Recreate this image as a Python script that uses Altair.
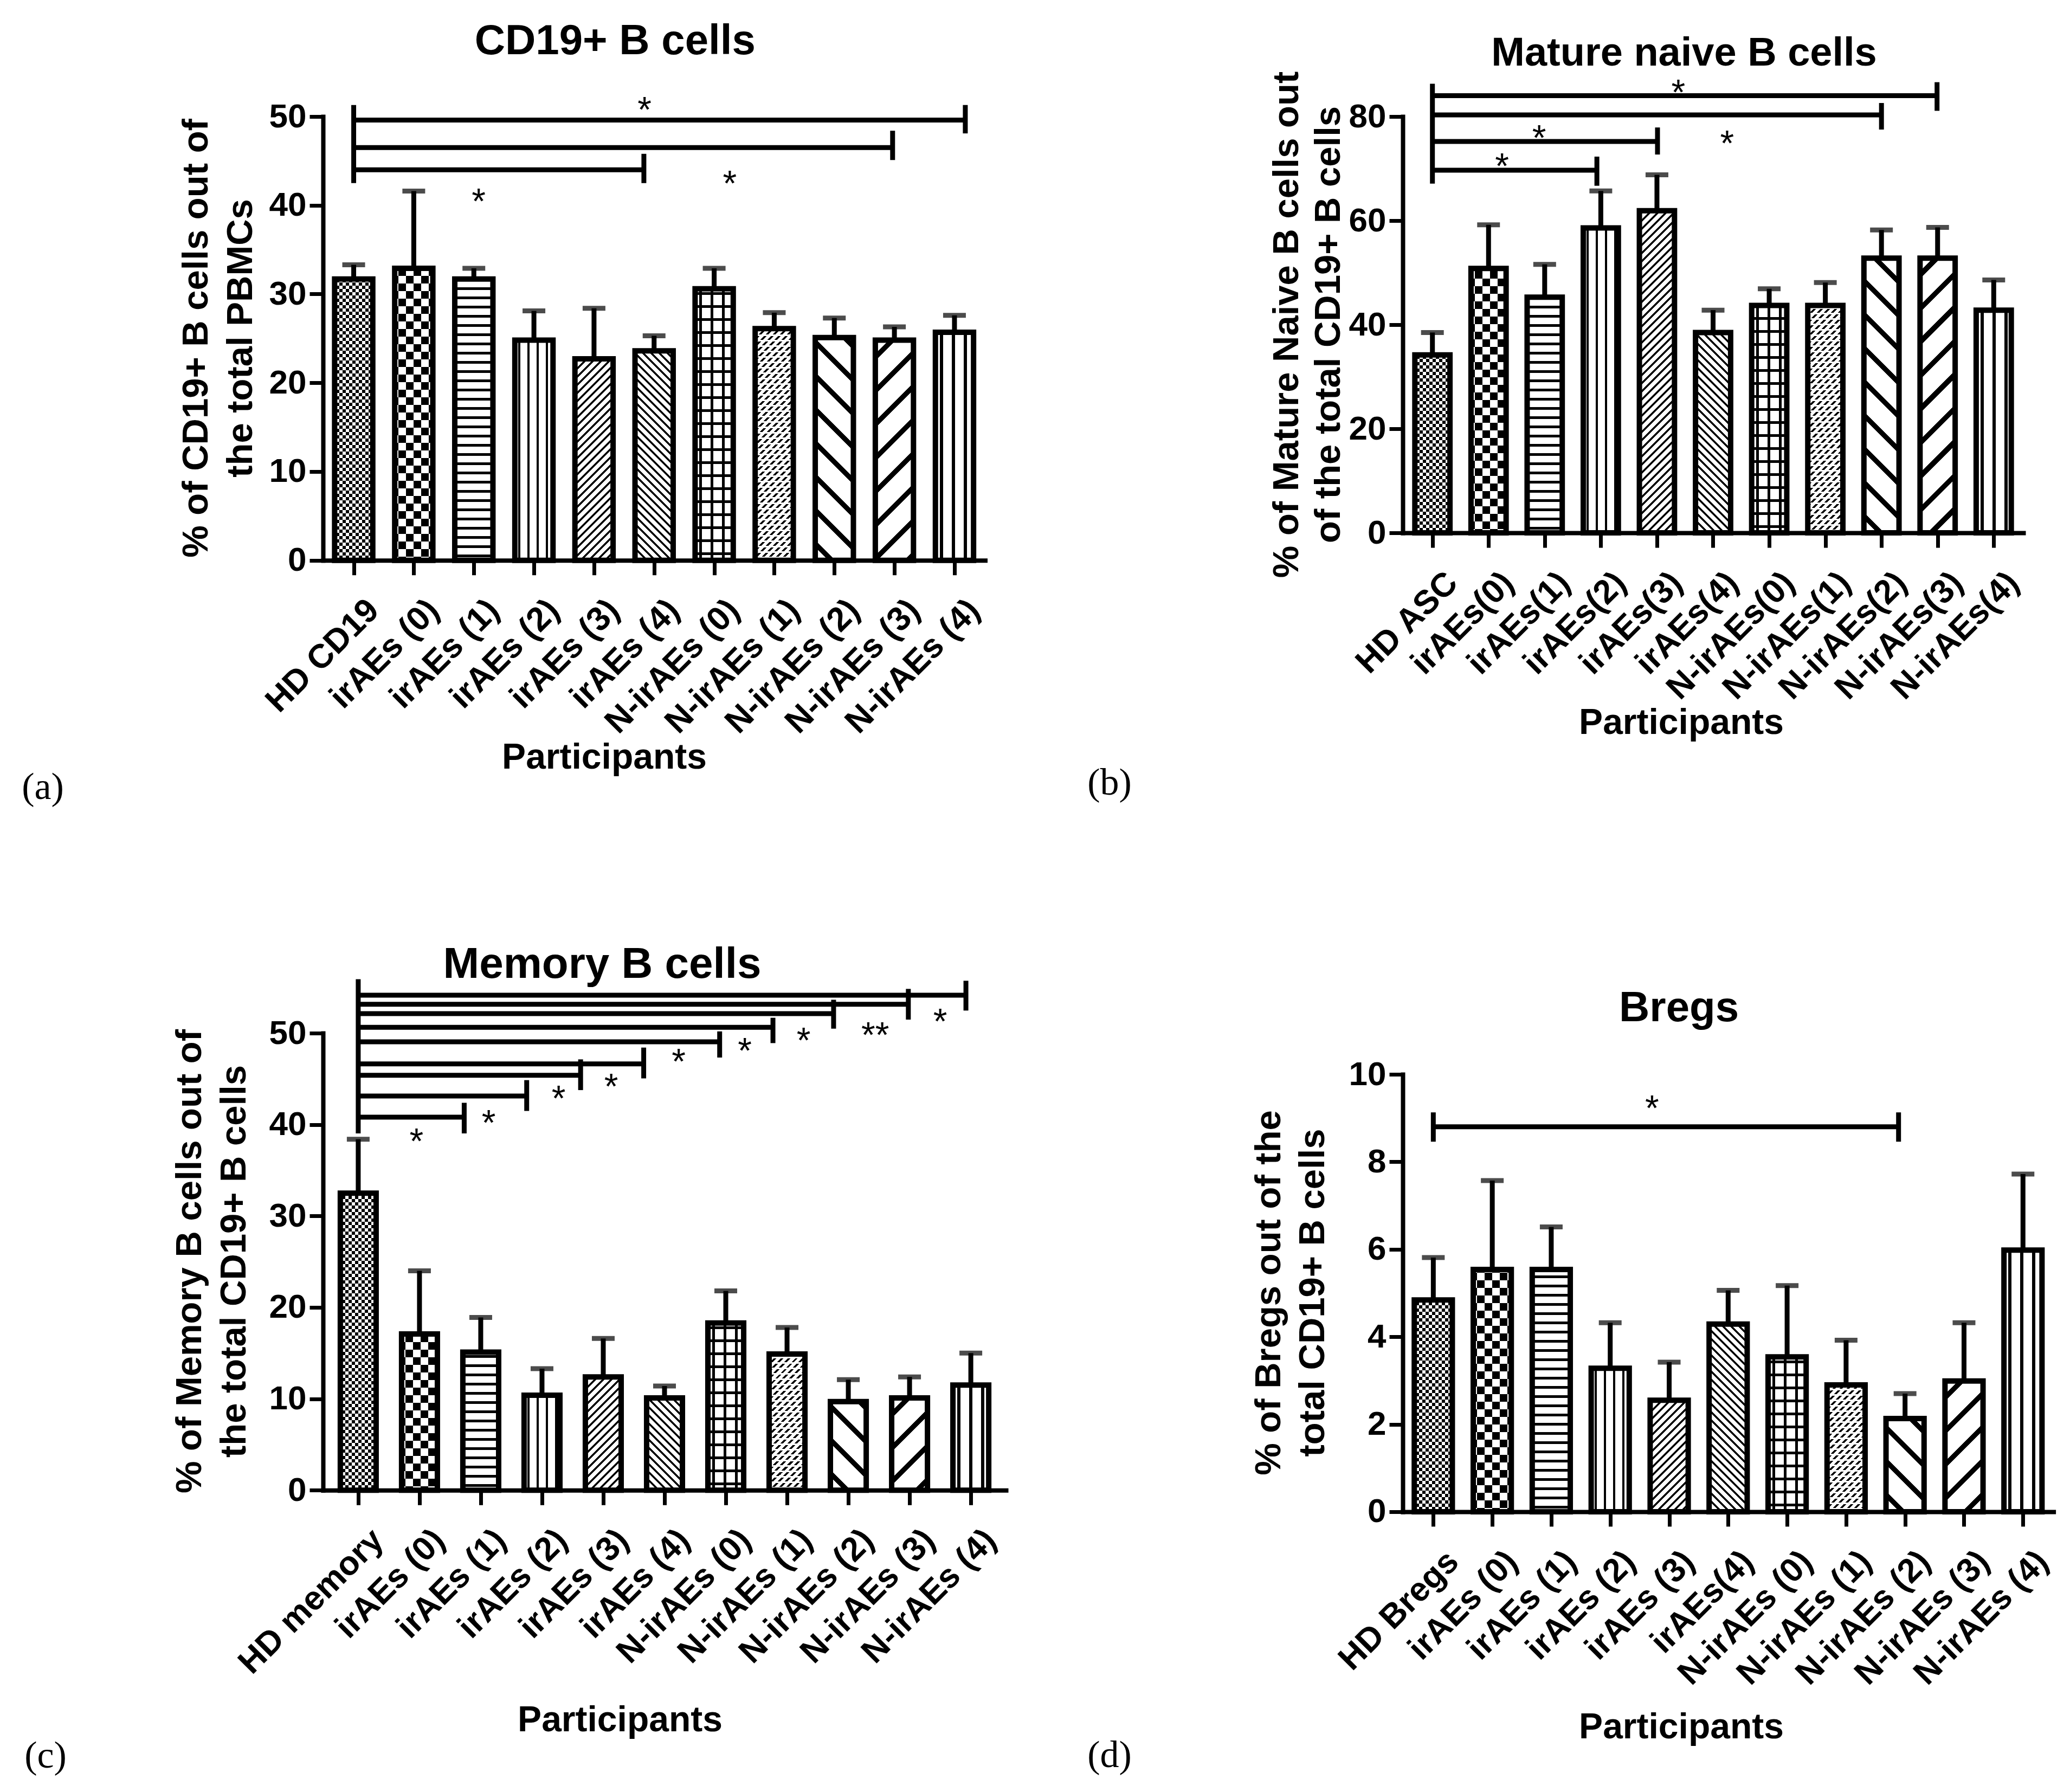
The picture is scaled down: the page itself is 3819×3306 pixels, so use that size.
import json
import altair as alt
import pandas as pd

# ------------------------------------------------------------------ data
# (a) CD19+ B cells
a_labels = ["HD CD19", "irAEs (0)", "irAEs (1)", "irAEs (2)", "irAEs (3)", "irAEs (4)",
            "N-irAEs (0)", "N-irAEs (1)", "N-irAEs (2)", "N-irAEs (3)", "N-irAEs (4)"]
a_mean = [31.7, 32.9, 31.7, 24.8, 22.7, 23.6, 30.6, 26.1, 25.1, 24.8, 25.7]
a_err = [33.3, 41.6, 32.9, 28.1, 28.4, 25.3, 32.9, 27.9, 27.3, 26.3, 27.6]
a_line_x1 = [0, 0, 0]
a_line_x2 = [10.18, 8.97, 4.83]
a_line_y = [49.6, 46.5, 44.0]
a_tick_x = [0, 10.18, 8.97, 4.83]
a_tick_y1 = [42.5, 48.1, 45.1, 42.5]
a_tick_y2 = [51.3, 51.3, 48.4, 45.8]
a_star_x = [4.84, 6.26, 2.08]
a_star_y = [51.7, 43.4, 41.4]
a_star_t = ["*", "*", "*"]
a_title = "CD19+ B cells"
a_ytitle = ["% of CD19+ B cells out of", "the total PBMCs"]

# (b) Mature naive B cells
b_labels = ["HD ASC", "irAEs(0)", "irAEs(1)", "irAEs(2)", "irAEs(3)", "irAEs(4)",
            "N-irAEs(0)", "N-irAEs(1)", "N-irAEs(2)", "N-irAEs(3)", "N-irAEs(4)"]
b_mean = [34.2, 50.8, 45.3, 58.6, 61.9, 38.5, 43.7, 43.7, 52.8, 52.8, 42.8]
b_err = [38.5, 59.2, 51.6, 65.7, 68.8, 42.8, 46.9, 48.1, 58.2, 58.7, 48.6]
b_line_x1 = [0, 0, 0, 0]
b_line_x2 = [8.99, 8.0, 4.01, 2.93]
b_line_y = [84.0, 80.3, 75.2, 69.7]
b_tick_x = [0, 8.99, 8.0, 4.01, 2.93]
b_tick_y1 = [67.1, 81.1, 77.5, 72.7, 66.7]
b_tick_y2 = [86.3, 86.6, 82.6, 77.9, 72.3]
b_star_x = [4.38, 5.25, 1.9, 1.24]
b_star_y = [86.3, 76.5, 77.5, 72.1]
b_star_t = ["*", "*", "*", "*"]
b_title = "Mature naive B cells"
b_ytitle = ["% of Mature Naive B cells out", "of the total CD19+ B cells"]

# (c) Memory B cells
c_labels = ["HD memory", "irAEs (0)", "irAEs (1)", "irAEs (2)", "irAEs (3)", "irAEs (4)",
            "N-irAEs (0)", "N-irAEs (1)", "N-irAEs (2)", "N-irAEs (3)", "N-irAEs (4)"]
c_mean = [32.5, 17.1, 15.1, 10.4, 12.4, 10.1, 18.3, 14.9, 9.7, 10.1, 11.5]
c_err = [38.4, 24.0, 18.9, 13.3, 16.6, 11.4, 21.8, 17.8, 12.1, 12.4, 15.0]
c_line_x1 = [0, 0, 0, 0, 0, 0, 0, 0, 0]
c_line_x2 = [9.92, 8.98, 7.76, 6.77, 5.90, 4.66, 3.63, 2.75, 1.73]
c_line_y = [54.15, 53.16, 52.13, 50.63, 49.05, 46.64, 45.39, 43.12, 40.81]
c_tick_x = [0, 9.92, 8.98, 7.76, 6.77, 5.90, 4.66, 3.63, 2.75, 1.73]
c_tick_y1 = [39.03, 52.47, 51.48, 50.49, 48.91, 47.33, 45.05, 43.77, 41.49, 39.03]
c_tick_y2 = [55.9, 55.73, 54.84, 53.65, 51.68, 50.19, 48.42, 47.13, 44.86, 42.38]
c_star_x = [9.50, 8.44, 7.27, 6.31, 5.23, 4.13, 3.27, 2.13, 0.95]
c_star_y = [52.2, 50.7, 50.1, 49.0, 47.8, 45.05, 43.77, 41.1, 39.1]
c_star_t = ["*", "**", "*", "*", "*", "*", "*", "*", "*"]
c_title = "Memory B cells"
c_ytitle = ["% of Memory B cells out of", "the total CD19+ B cells"]

# (d) Bregs
d_labels = ["HD Bregs", "irAEs (0)", "irAEs (1)", "irAEs (2)", "irAEs (3)", "irAEs(4)",
            "N-irAEs (0)", "N-irAEs (1)", "N-irAEs (2)", "N-irAEs (3)", "N-irAEs (4)"]
d_mean = [4.84, 5.54, 5.54, 3.28, 2.55, 4.29, 3.54, 2.90, 2.13, 2.99, 5.98]
d_err = [5.81, 7.57, 6.51, 4.32, 3.42, 5.06, 5.17, 3.92, 2.70, 4.32, 7.72]
d_line_x1 = [0]
d_line_x2 = [7.89]
d_line_y = [8.80]
d_tick_x = [0, 7.89]
d_tick_y1 = [8.46, 8.46]
d_tick_y2 = [9.13, 9.13]
d_star_x = [3.71]
d_star_y = [9.42]
d_star_t = ["*"]
d_title = "Bregs"
d_ytitle = ["% of Bregs out of the", "total CD19+ B cells"]

x_title = "Participants"
tags = ["(a)", "(b)", "(c)", "(d)"]

# ------------------------------------------------------------------ style
FONT = "Liberation Sans"
SERIF = "Liberation Serif"
OUTLINE = 10


def stops_for(length, period, line, fg="black", bg="white"):
    st = [dict(color=bg, offset=0.0)]
    pos = (period - line) / 2.0
    while pos < length:
        a = round(max(pos, 0.0) / length, 5)
        b = round(min(pos + line, length) / length, 5)
        st += [dict(color=bg, offset=a), dict(color=fg, offset=a),
               dict(color=fg, offset=b), dict(color=bg, offset=b)]
        pos += period
    st.append(dict(color=bg, offset=1.0))
    return st


def g_vert(w, h, period, line, fg="black", bg="white"):
    return dict(gradient="linear", x1=0, y1=0, x2=1, y2=0,
                stops=stops_for(w, period, line, fg, bg))


def g_horiz(w, h, period, line, fg="black", bg="white"):
    return dict(gradient="linear", x1=0, y1=1, x2=0, y2=0,
                stops=stops_for(h, period, line, fg, bg))


def g_diag(w, h, period, line, up=True, fg="black", bg="white"):
    k = (w + h) / (w * w + h * h)
    if up:
        x1, y1, x2, y2 = 0, 0, w * k, h * k
    else:
        x1, y1, x2, y2 = 0, 1, w * k, 1 - h * k
    return dict(gradient="linear", x1=x1, y1=y1, x2=round(x2, 6), y2=round(y2, 6),
                stops=stops_for(w + h, period, line, fg, bg))


def patterns(i, w, h):
    if i == 0:
        return [(g_vert(w, h, 12, 6), None), (g_horiz(w, h, 12, 6, "white", "black"), "difference")]
    if i == 1:
        return [(g_vert(w, h, 28, 14), None), (g_horiz(w, h, 28, 14, "white", "black"), "difference")]
    if i == 2:
        return [(g_horiz(w, h, 17, 5), None)]
    if i == 3:
        return [(g_vert(w, h, 17, 4), None)]
    if i == 4:
        return [(g_diag(w, h, 15, 5, True), None)]
    if i == 5:
        return [(g_diag(w, h, 15, 5, False), None)]
    if i == 6:
        return [(g_vert(w, h, 21, 5), None), (g_horiz(w, h, 24, 5), "multiply")]
    if i == 7:
        return [(g_diag(w, h, 13, 5, True), None), (g_horiz(w, h, 10, 3, "white", "black"), "screen")]
    if i == 8:
        return [(g_diag(w, h, 62, 13, False), None)]
    if i == 9:
        return [(g_diag(w, h, 62, 13, True), None)]
    return [(g_vert(w, h, 22, 6), None)]


def build(labels, mean, err, lx1, lx2, ly, tx, ty1, ty2, sx, sy, stt,
          title, ytitle, tag, st):
    n = len(labels)
    W, H, ymax = st["W"], st["H"], st["ymax"]
    pi, po = st["pi"], st["po"]
    step = W / (n - pi + 2 * po)
    bw = step * (1 - pi)
    lo = -po - (1 - pi) / 2
    hi = n - 0.5 - pi / 2 + po
    xscale = alt.Scale(domain=[lo, hi], nice=False, zero=False)
    yscale = alt.Scale(domain=[0, ymax], nice=False, zero=True)
    xaxis = alt.Axis(values=list(range(n)), labelExpr=json.dumps(labels) + "[datum.value]",
                     title=None, labelAngle=-45, labelAlign="right", labelBaseline="middle",
                     labelFontSize=62, labelPadding=55, labelOffset=36, tickSize=27,
                     labelOverlap=False, labelFlush=False, labelBound=False, labelLimit=0)
    yaxis = alt.Axis(values=st["yticks"], title=None, labelFontSize=62, tickSize=25,
                     labelPadding=6, labelOverlap=False, labelFlush=False)

    def X(f):
        return alt.X(f, type="quantitative", scale=xscale, axis=xaxis)

    def Y(f):
        return alt.Y(f, type="quantitative", scale=yscale, axis=yaxis)

    df = pd.DataFrame({"idx": list(range(n)), "label": labels, "mean": mean, "err": err})
    layers = []
    for i in range(n):
        h = mean[i] / ymax * H
        for grad, blend in patterns(i, bw, h):
            kw = dict(fill=grad, width=bw)
            if blend:
                kw["blend"] = blend
            layers.append(
                alt.Chart(df).transform_filter(f"datum.idx == {i}")
                .mark_bar(**kw)
                .encode(x=X("idx"), y=Y("mean"), y2=alt.datum(0))
            )
    layers.append(alt.Chart(df).mark_bar(filled=False, color="black", strokeWidth=OUTLINE, width=bw)
                  .encode(x=X("idx"), y=Y("mean"), y2=alt.datum(0)))
    layers.append(alt.Chart(df).mark_rule(color="black", strokeWidth=9)
                  .encode(x=X("idx"), y=Y("mean"), y2=alt.Y2("err")))
    layers.append(alt.Chart(df).mark_tick(orient="horizontal", size=42, thickness=9, color="black")
                  .encode(x=X("idx"), y=Y("err")))
    dl = pd.DataFrame({"x1": lx1, "x2": lx2, "y": ly})
    layers.append(alt.Chart(dl).mark_rule(color="black", strokeWidth=9)
                  .encode(x=X("x1"), x2=alt.X2("x2"), y=Y("y")))
    dt = pd.DataFrame({"x": tx, "y1": ty1, "y2": ty2})
    layers.append(alt.Chart(dt).mark_rule(color="black", strokeWidth=9)
                  .encode(x=X("x"), y=Y("y1"), y2=alt.Y2("y2")))
    ds = pd.DataFrame({"x": sx, "y": sy, "t": stt})
    layers.append(alt.Chart(ds).mark_text(font=FONT, fontSize=66, color="black", dy=38,
                                           baseline="alphabetic", align="center")
                  .encode(x=X("x"), y=Y("y"), text="t:N"))

    def txt(s, px, py, size, weight="bold", angle=0, font=FONT):
        kw = dict(font=font, fontSize=size, fontWeight=weight, color="black",
                  align="center", baseline="middle")
        if angle:
            kw["angle"] = angle
        return (alt.Chart(pd.DataFrame({"t": [s]})).mark_text(**kw)
                .encode(text="t:N", x=alt.value(px), y=alt.value(py)))

    tp = st["txt"]
    layers.append(txt(title, tp["title"][0], tp["title"][1], st["tfs"]))
    layers.append(txt(ytitle[0], tp["y1"][0], tp["y1"][1], 67, angle=270))
    layers.append(txt(ytitle[1], tp["y2"][0], tp["y2"][1], 67, angle=270))
    layers.append(txt(x_title, tp["xt"][0], tp["xt"][1], 66))
    layers.append(txt(tag, tp["tag"][0], tp["tag"][1], 70, weight="normal", font=SERIF))
    if st.get("spacer") is not None:
        layers.append(alt.Chart(pd.DataFrame({"t": [0]})).mark_rule(opacity=0, strokeWidth=1)
                      .encode(x=alt.value(0), x2=alt.value(1), y=alt.value(st["spacer"])))
    return alt.layer(*layers).properties(width=W, height=H)


st_a = dict(W=1221.5, H=818.7, ymax=50, yticks=[0, 10, 20, 30, 40, 50], pi=0.37, po=0.15,
            tfs=78,
            txt=dict(title=(538.7, -138), y1=(-233, 409), y2=(-151, 409),
                     xt=(519, 1183), tag=(-517, 1238.4)))
st_b = dict(W=1145, H=768.1, ymax=80, yticks=[0, 20, 40, 60, 80], pi=0.38, po=0.17,
            tfs=74,
            txt=dict(title=(519, -116), y1=(-213, 384), y2=(-136, 384),
                     xt=(514, 1119), tag=(-541, 1230)), spacer=-186.5)
st_c = dict(W=1260, H=843.3, ymax=50, yticks=[0, 10, 20, 30, 40, 50], pi=0.42, po=0.24,
            tfs=80,
            txt=dict(title=(515, -126.4), y1=(-245, 421), y2=(-163, 421),
                     xt=(548, 1268), tag=(-512, 1333.6)))
st_d = dict(W=1200.6, H=806.9, ymax=10, yticks=[0, 2, 4, 6, 8, 10], pi=0.36, po=0.152,
            tfs=78,
            txt=dict(title=(509.5, -120.8), y1=(-246, 403), y2=(-165, 403),
                     xt=(514, 1205), tag=(-541, 1257)))

pa = build(a_labels, a_mean, a_err, a_line_x1, a_line_x2, a_line_y, a_tick_x, a_tick_y1,
           a_tick_y2, a_star_x, a_star_y, a_star_t, a_title, a_ytitle, tags[0], st_a)
pb = build(b_labels, b_mean, b_err, b_line_x1, b_line_x2, b_line_y, b_tick_x, b_tick_y1,
           b_tick_y2, b_star_x, b_star_y, b_star_t, b_title, b_ytitle, tags[1], st_b)
pc = build(c_labels, c_mean, c_err, c_line_x1, c_line_x2, c_line_y, c_tick_x, c_tick_y1,
           c_tick_y2, c_star_x, c_star_y, c_star_t, c_title, c_ytitle, tags[2], st_c)
pd_ = build(d_labels, d_mean, d_err, d_line_x1, d_line_x2, d_line_y, d_tick_x, d_tick_y1,
            d_tick_y2, d_star_x, d_star_y, d_star_t, d_title, d_ytitle, tags[3], st_d)

col1 = alt.vconcat(pa, pc, spacing=250)
col2 = alt.vconcat(pb, pd_, spacing=342)
chart = (
    alt.hconcat(col1, col2, spacing=150)
    .properties(padding={"left": 32, "top": 20, "right": 5, "bottom": 5}, background="white")
    .configure_view(stroke=None)
    .configure_axis(labelFont=FONT, labelFontWeight="bold", labelColor="black",
                    domainColor="black", tickColor="black", domainWidth=8, tickWidth=7,
                    domainCap="square", grid=False)
)

chart.save("out.html", embed_options={"renderer": "svg", "actions": False})
